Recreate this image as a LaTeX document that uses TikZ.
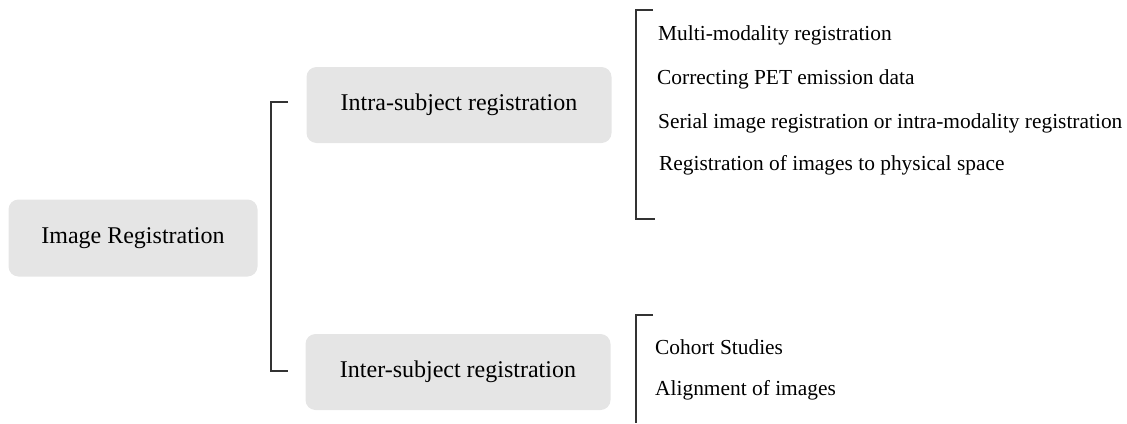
\documentclass[tikz,border=0pt]{standalone}
\usepackage{fontspec}
\setmainfont{Liberation Serif}
\definecolor{boxgray}{HTML}{E5E5E5}
\definecolor{linegray}{HTML}{333333}
\tikzset{
  regbox/.style={fill=boxgray, rounded corners=10pt, inner sep=0pt,
    font=\fontsize{24}{28}\selectfont},
  item/.style={anchor=west, inner sep=0pt, font=\fontsize{21.4}{25}\selectfont},
  brace/.style={draw=linegray, line width=1.6pt}
}
\begin{document}
\begin{tikzpicture}[x=1pt,y=-1pt]
\useasboundingbox (0,0) rectangle (1127,423);
% boxes
\node[regbox, minimum width=249, minimum height=77] (img) at (133,238) {Image Registration};
\node[regbox, minimum width=305, minimum height=76] (intra) at (459,105) {Intra-subject registration};
\node[regbox, minimum width=305, minimum height=76] (inter) at (458,372) {Inter-subject registration};
% left bracket
\coordinate (lt) at (288,102); \coordinate (lb) at (288,371);
\draw[brace] (lt) -- (271,102) -- (271,371) -- (lb);
% upper list
\coordinate (ut) at (653,10); \coordinate (ub) at (655,219);
\draw[brace] (ut) -- (636,10) -- (636,219) -- (ub);
\node[item] (multi) at (658,35) {Multi-modality registration};
\node[item] (pet) at (657,79) {Correcting PET emission data};
\node[item] (serial) at (658,123) {Serial image registration or intra-modality registration};
\node[item] (phys) at (659,165) {Registration of images to physical space};
% lower list
\coordinate (wt) at (653,315); \coordinate (wb) at (636,423);
\draw[brace] (wt) -- (636,315) -- (wb);
\node[item] (cohort) at (655,347) {Cohort Studies};
\node[item] (align) at (655,390) {Alignment of images};
\end{tikzpicture}
\end{document}
